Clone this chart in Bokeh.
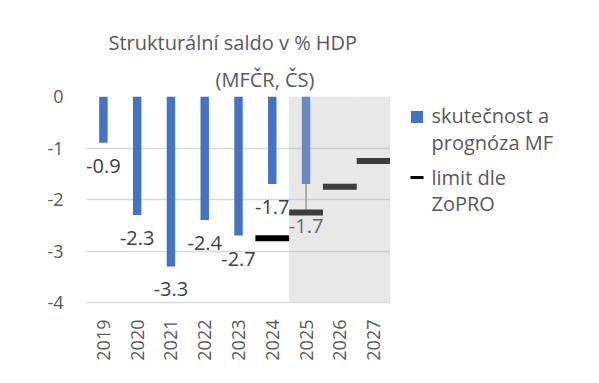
import math
from bokeh.plotting import figure
from bokeh.layouts import row
from bokeh.models import (FactorRange, Range1d, FixedTicker, ColumnDataSource, Title)
from bokeh.core.properties import value
from bokeh.embed import file_html
from bokeh.resources import INLINE

# ---- data ----
years = ["2019", "2020", "2021", "2022", "2023", "2024", "2025", "2026", "2027"]
bar_years = ["2019", "2020", "2021", "2022", "2023", "2024", "2025"]
saldo = [-0.9, -2.3, -3.3, -2.4, -2.7, -1.7, -1.7]
limit_years = ["2024", "2025", "2026", "2027"]
limit = [-2.75, -2.25, -1.75, -1.25]
forecast_years = ["2025", "2026", "2027"]
y_ticks = [-4, -3, -2, -1, 0]
title_1 = "Strukturální saldo v % HDP"
title_2 = "(MFČR, ČS)"
legend_bar = ["skutečnost a", "prognóza MF"]
legend_limit = ["limit dle", "ZoPRO"]

FONT = "Open Sans"
GREY_TXT = "#595959"
BLUE = "#4472C4"

p = figure(width=390, height=383, x_range=FactorRange(*years, range_padding=0),
           y_range=Range1d(min(y_ticks), max(y_ticks)),
           output_backend="svg", toolbar_location=None,
           min_border_left=86, min_border_right=0, min_border_top=96,
           min_border_bottom=81)
p.outline_line_color = None
p.background_fill_color = "white"

# grid / axes
p.xgrid.grid_line_color = None
p.ygrid.grid_line_color = "#d9d9d9"
p.ygrid.grid_line_width = 1.5
p.yaxis.ticker = FixedTicker(ticks=y_ticks)
p.yaxis.major_label_overrides = {t: f"{t:d}" for t in y_ticks}
p.yaxis.axis_line_color = None
p.yaxis.major_tick_line_color = None
p.yaxis.minor_tick_line_color = None
p.yaxis.major_label_text_font = FONT
p.yaxis.major_label_text_font_size = "18px"
p.yaxis.major_label_text_color = GREY_TXT
p.yaxis.major_label_standoff = 17

p.xaxis.axis_line_color = "#d9d9d9"
p.xaxis.axis_line_width = 1.5
p.xaxis.major_tick_line_color = None
p.xaxis.minor_tick_line_color = None
p.xaxis.major_label_orientation = math.pi / 2
p.xaxis.major_label_text_font = FONT
p.xaxis.major_label_text_font_size = "18px"
p.xaxis.major_label_text_color = GREY_TXT
p.xaxis.major_label_standoff = 11

# bars
bars = p.vbar(x=bar_years, top=saldo, bottom=0, width=0.25,
              fill_color=BLUE, line_color=None)

# connector 2025 from bar to limit
conn_x = [y for y in bar_years if y in limit_years and y in forecast_years]
conn_top = [saldo[bar_years.index(y)] for y in conn_x]
conn_bot = [limit[limit_years.index(y)] for y in conn_x]
p.segment(x0=conn_x, y0=conn_top, x1=conn_x, y1=conn_bot,
          line_color="#8c8c8c", line_width=1.5)

# limit markers
p.rect(x=limit_years, y=limit, width=1.0, height=6, height_units="screen",
       fill_color="black", line_color=None)

# data labels
lab_text = [f"{v:.1f}" for v in saldo]
lab_off = [42 if (y in forecast_years and y in limit_years) else 23 for y in bar_years]
src = ColumnDataSource(dict(x=bar_years, y=saldo, t=lab_text, off=lab_off))
p.text(x="x", y="y", text="t", y_offset="off", source=src,
       text_align="center", text_baseline="middle",
       text_font=value(FONT), text_font_size="20px", text_color="#404040")

# forecast shading (drawn on top, semi-transparent)
p.vbar(x=forecast_years, top=max(y_ticks), bottom=min(y_ticks), width=1.0,
       fill_color="#b9b9b9", fill_alpha=0.33, line_color=None)

# title (two lines)
t2 = Title(text=title_2, align="left", offset=129, text_font=FONT,
           text_font_size="20px", text_font_style="normal", text_color=GREY_TXT,
           standoff=8)
t1 = Title(text=title_1, align="left", offset=22, text_font=FONT,
           text_font_size="20px", text_font_style="normal", text_color=GREY_TXT,
           standoff=7)
p.add_layout(t2, "above")
p.add_layout(t1, "above")

# ---- legend panel (page-pixel coordinates inside the aligned frame) ----
lg = figure(width=209, height=383, x_range=Range1d(390, 599), y_range=Range1d(302, 96),
            output_backend="svg", toolbar_location=None,
            x_axis_location=None, y_axis_location=None,
            min_border_left=0, min_border_right=0, min_border_top=96,
            min_border_bottom=81)
lg.outline_line_color = None
lg.grid.visible = False
lg.rect(x=[416.5], y=[116.5], width=12, height=12, fill_color=BLUE, line_color=None)
lg.rect(x=[416.5], y=[177], width=13, height=3, fill_color="black", line_color=None)
leg_src = ColumnDataSource(dict(x=[431] * 4, y=[115, 142, 177, 203],
                                t=legend_bar + legend_limit))
lg.text(x="x", y="y", text="t", source=leg_src, text_align="left",
        text_baseline="middle", text_font=value(FONT), text_font_size="20px",
        text_color=GREY_TXT)

open("out.html", "w").write(file_html(row(p, lg), INLINE))
